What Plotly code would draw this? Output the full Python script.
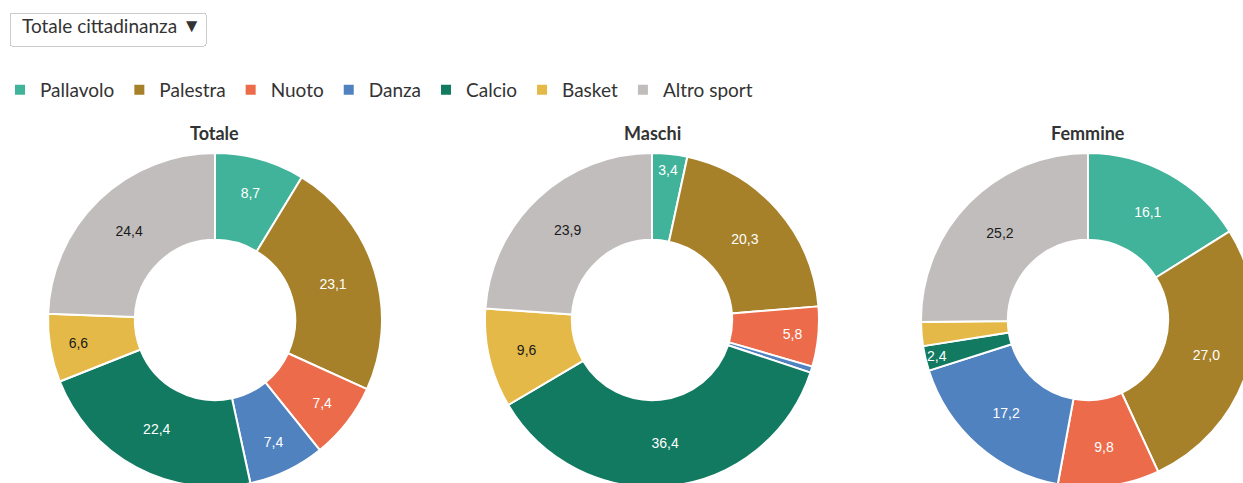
import plotly.graph_objects as go

categories = ["Pallavolo", "Palestra", "Nuoto", "Danza", "Calcio", "Basket", "Altro sport"]
totale = [8.7, 23.1, 7.4, 7.4, 22.4, 6.6, 24.4]
maschi = [3.4, 20.3, 5.8, 0.6, 36.4, 9.6, 23.9]
femmine = [16.1, 27.0, 9.8, 17.2, 2.4, 2.3, 25.2]
titles = ["Totale", "Maschi", "Femmine"]
series = [totale, maschi, femmine]
hidden = [[], ["Danza"], ["Basket"]]

colors = ["#41B39A", "#A6812A", "#EC6B4B", "#5182C0", "#117A61", "#E4B947", "#C1BDBC"]
text_colors = ["white", "white", "white", "white", "white", "#1a1a1a", "#1a1a1a"]

W, H = 1262, 490
R = 167
centers_x = [215, 652, 1088]
center_y = 320

fig = go.Figure()
for i, (name, vals) in enumerate(zip(titles, series)):
    cx = centers_x[i]
    txt = ["" if c in hidden[i] else f"{v:.1f}".replace(".", ",") for c, v in zip(categories, vals)]
    fig.add_trace(go.Pie(
        labels=categories, values=vals, name=name,
        text=txt, textinfo="text", textposition="inside",
        insidetextorientation="horizontal",
        hole=0.48, sort=False, direction="clockwise", rotation=0,
        marker=dict(colors=colors, line=dict(color="white", width=2)),
        textfont=dict(family="Liberation Sans, Arial", size=14, color=text_colors),
        domain=dict(x=[(cx - R) / W, (cx + R) / W],
                    y=[(H - center_y - R) / H, (H - center_y + R) / H]),
        hovertemplate="%{label}: %{value:.1f}<extra>" + name + "</extra>",
    ))
    fig.add_annotation(text=f"<b>{name}</b>", x=cx / W, y=(H - 133) / H,
                       xref="paper", yref="paper", showarrow=False,
                       xanchor="center", yanchor="middle",
                       font=dict(family="Lato, Open Sans", size=18, color="#333333"))

fig.update_layout(
    width=W, height=H,
    margin=dict(l=0, r=0, t=0, b=0),
    paper_bgcolor="white", plot_bgcolor="white",
    font=dict(family="Lato, Open Sans", color="#333333"),
    uniformtext=dict(minsize=14, mode="show"),
    showlegend=True,
    legend=dict(orientation="h", x=0, xanchor="left", y=(H - 90) / H, yanchor="middle",
                font=dict(size=19, color="#333333"), traceorder="normal",
                itemclick=False, itemdoubleclick=False, itemwidth=30),
    updatemenus=[dict(
        type="dropdown", direction="down", active=0,
        x=9 / W, xanchor="left", y=(H - 12) / H, yanchor="top",
        bgcolor="white", bordercolor="#cccccc", borderwidth=1,
        font=dict(size=19, color="#333333", family="Lato, Open Sans"),
        pad=dict(t=0, b=0, l=0, r=0),
        showactive=False,
        buttons=[dict(label="Totale cittadinanza", method="skip", args=[None])],
    )],
)

fig.write_html("out.html", config={"displayModeBar": False},
               post_script="document.body.style.margin='0';document.body.style.overflow='hidden';document.documentElement.style.overflow='hidden';")
